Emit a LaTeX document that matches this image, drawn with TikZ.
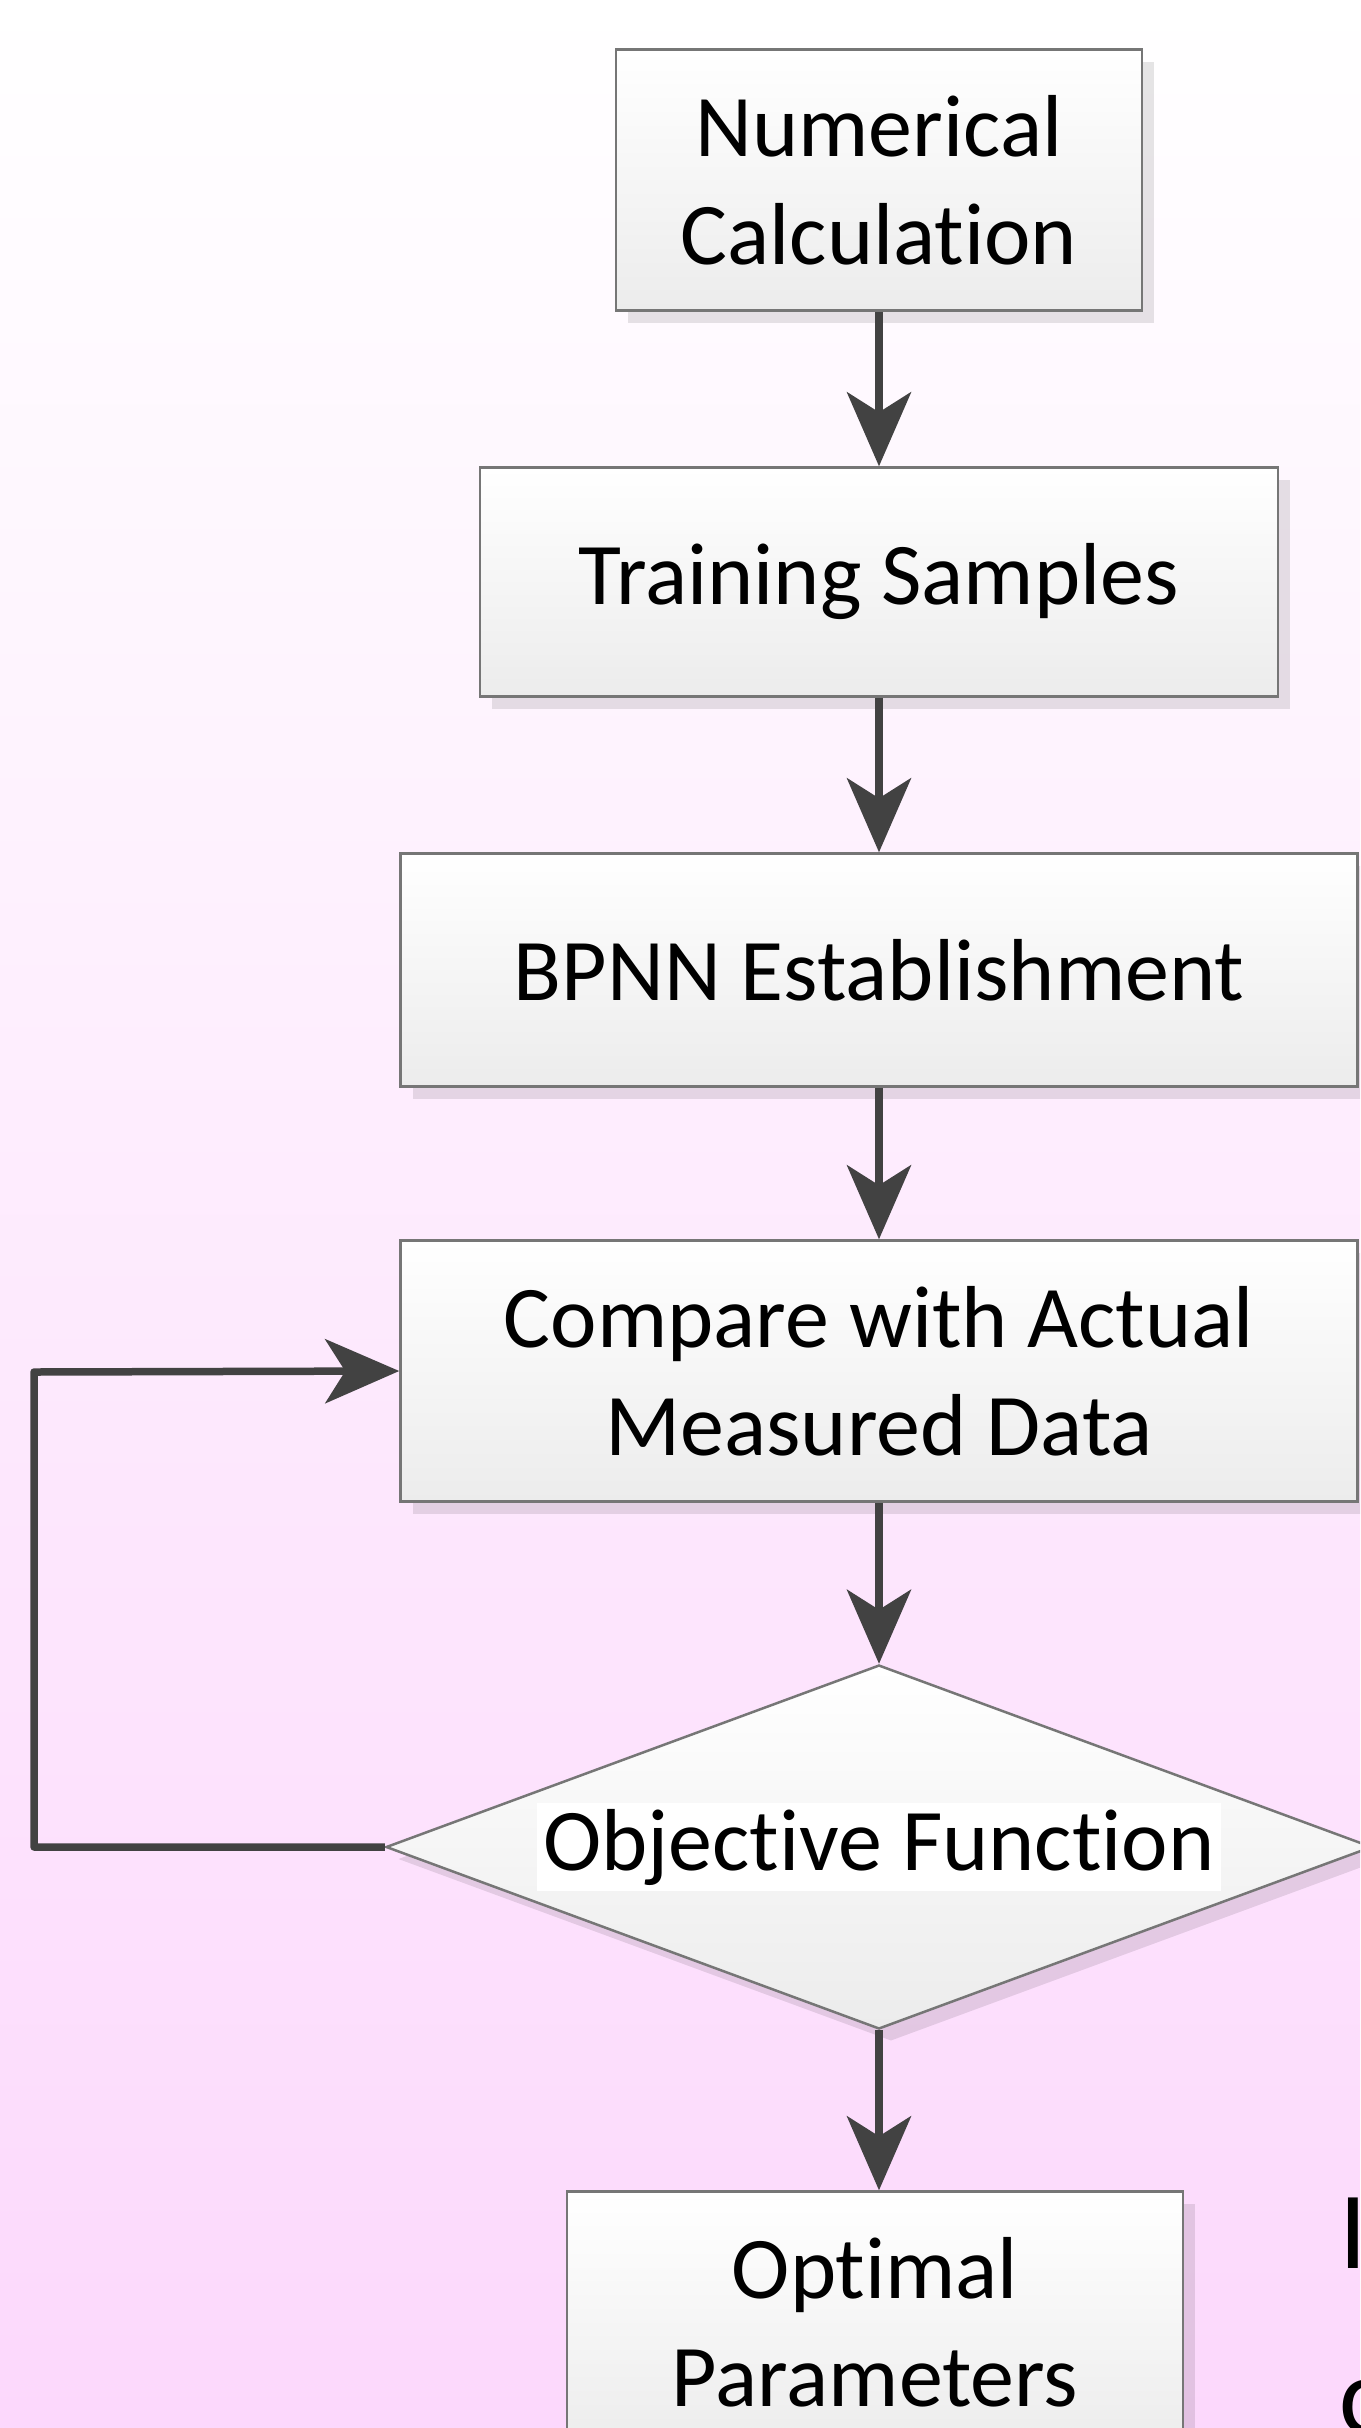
\documentclass[tikz,border=0pt]{standalone}
\usepackage{fontspec}
\setmainfont{Carlito}[Ligatures={NoCommon,NoContextual}, RawFeature={-liga;-clig;-calt}]
\usetikzlibrary{arrows.meta,shapes.geometric,shadows}
\definecolor{bgpink}{RGB}{252,216,252}
\definecolor{boxline}{RGB}{118,118,118}
\definecolor{boxbot}{RGB}{236,236,236}
\definecolor{arrowgray}{RGB}{66,66,66}
\newcommand{\nolig}{\kern0pt{}}
\tikzset{
  boxshadow/.style={drop shadow={shadow xshift=12pt, shadow yshift=-12pt, opacity=0.10, fill=black}},
  procbox/.style={rectangle, draw=boxline, line width=2.5pt, top color=white, bottom color=boxbot,
    align=center, inner sep=0pt, font=\fontsize{88}{108}\selectfont, boxshadow},
  decision/.style={diamond, draw=boxline, line width=2.5pt, top color=white, bottom color=boxbot,
    inner sep=0pt, boxshadow},
  decisiontext/.style={fill=white, inner sep=6pt, font=\fontsize{88}{108}\selectfont},
  flowarrow/.style={draw=arrowgray, line width=7.5pt, line join=round,
    -{Stealth[length=74pt,width=64pt,inset=20pt]}},
  edgetext/.style={font=\fontsize{110}{165}\selectfont, align=left, inner sep=0pt, anchor=north west},
}
\begin{document}
\begin{tikzpicture}[x=1pt,y=-1pt]
\useasboundingbox (0,0) rectangle (1360,2428);
\shade[top color=white, bottom color=bgpink] (0,0) rectangle (1360,2428);
\begin{scope}
\clip (0,0) rectangle (1360,2428);
\node[procbox, minimum width=526pt, minimum height=261pt] (num) at (879,180) {Numerical\\Calculat\nolig ion};
\node[procbox, minimum width=798pt, minimum height=229pt] (train) at (879,582) {Training Samples};
\node[procbox, minimum width=957pt, minimum height=233pt] (bpnn) at (879,970) {BPNN Establishment};
\node[procbox, minimum width=957pt, minimum height=261pt] (comp) at (879,1371) {Compare with Actual\\Measured Data};
\node[decision, minimum width=986pt, minimum height=364pt] (obj) at (879,1847) {};
\node[decisiontext] (objt) at (obj.center) {Object\nolig ive Funct\nolig ion};
\node[procbox, minimum width=616pt, minimum height=261pt] (opt) at (875,2322) {Optimal\\Parameters};
\node[edgetext] (edge) at (1339,2198) {I\\c};
\coordinate (loopbl) at (34,1847);
\coordinate (looptl) at (34,1372);
\end{scope}
\draw[flowarrow] (num) -- (train);
\draw[flowarrow] (train) -- (bpnn);
\draw[flowarrow] (bpnn) -- (comp);
\draw[flowarrow] (comp) -- (obj);
\draw[flowarrow] (obj.south) -- (obj.south |- opt.north);
\draw[flowarrow] (obj.west) -- (loopbl) -- (looptl) -- (comp.west);
\end{tikzpicture}
\end{document}
